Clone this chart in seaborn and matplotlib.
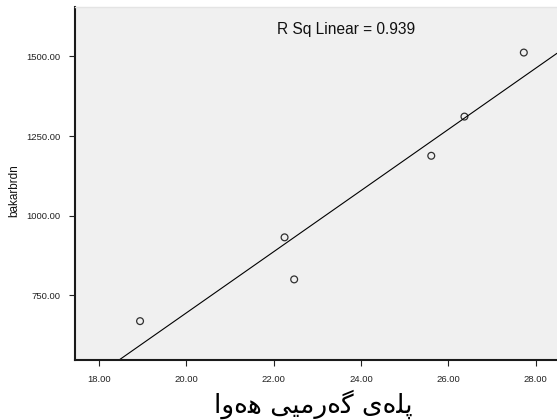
import matplotlib
matplotlib.use("Agg")
import matplotlib.pyplot as plt
import seaborn as sns
import pandas as pd
import numpy as np

# Data
temperature = [18.94, 22.25, 22.47, 25.61, 26.37, 27.73]
bakarbrdn = [669, 932, 800, 1188, 1311, 1512]
x_ticks = [18, 20, 22, 24, 26, 28]
y_ticks = [750, 1000, 1250, 1500]
r_sq_label = "R Sq Linear = 0.939"
y_label = "bakarbrdn"
# Kurdish "پلەی گەرمیی هەوا" written in shaped, visual (left-to-right) order
x_label = ("\uFE8D\uFEED\u06D5\uFEEB \uFBFD\uFBFF\uFEE3\uFEAD\u06D5\uFB94 "
           "\uFBFC\u06D5\uFEE0\uFB58")

df = pd.DataFrame({"temp": temperature, "bak": bakarbrdn})

sns.set_theme(style="white")
plt.rcParams["font.family"] = ["Liberation Sans", "DejaVu Sans"]

fig = plt.figure(figsize=(5.57, 4.20), dpi=100)
ax = fig.add_axes([75 / 557, 60 / 420, 482 / 557, 353 / 420])
ax.set_facecolor("#f0f0f0")

ax.set_xlim(17.45, 28.49)
ax.set_ylim(547, 1655)

sns.regplot(data=df, x="temp", y="bak", ax=ax, ci=None, truncate=False,
            scatter_kws=dict(s=24, facecolors="none", edgecolors="black",
                             linewidths=0.9),
            line_kws=dict(color="black", linewidth=0.8))

ax.set_xlim(17.45, 28.49)
ax.set_ylim(547, 1655)

ax.set_xticks(x_ticks)
ax.set_xticklabels([f"{v:.2f}" for v in x_ticks])
ax.set_yticks(y_ticks)
ax.set_yticklabels([f"{v:.2f}" for v in y_ticks])
ax.tick_params(axis="both", which="major", direction="out", length=4.5,
               width=0.8, color="#222222", labelsize=6.8, labelcolor="#222222",
               bottom=True, left=True, pad=6)

ax.spines["right"].set_visible(False)
ax.spines["top"].set_color("#e4e4e4")
ax.spines["top"].set_linewidth(1.0)
for side in ["left", "bottom"]:
    ax.spines[side].set_color("#1a1a1a")
    ax.spines[side].set_linewidth(1.5)

ax.text(0.562, 0.936, r_sq_label, transform=ax.transAxes, ha="center",
        va="center", fontsize=11.2, color="#111111")

ax.set_ylabel("")
ax.set_xlabel("")
fig.text(14 / 557, 1 - 191 / 420, y_label, rotation=90, ha="center",
         va="center", fontsize=8.5, family=["Liberation Sans Narrow",
                                            "Liberation Sans"],
         color="#111111")
fig.text(313 / 557, 1 - 404 / 420, x_label, ha="center", va="center",
         fontsize=19, family=["DejaVu Sans"], color="black")

fig.savefig("out.png", dpi=100, facecolor="white")
